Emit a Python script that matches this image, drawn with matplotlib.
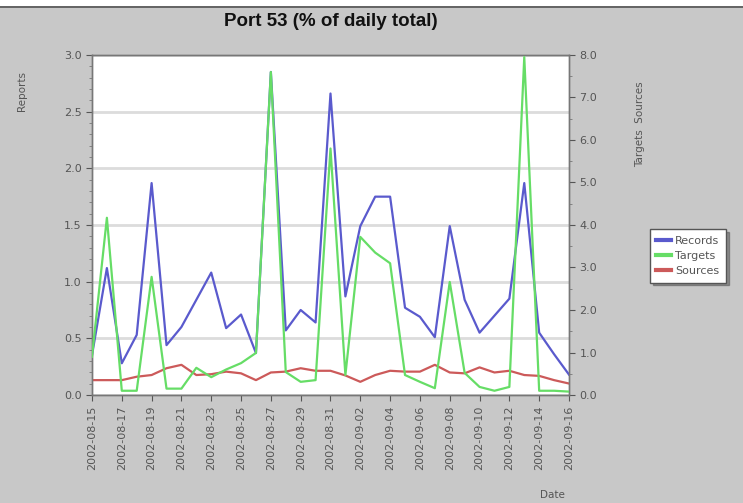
import numpy as np
import pandas as pd
import matplotlib
matplotlib.use('Agg')
import matplotlib.pyplot as plt
import matplotlib.dates as mdates
from matplotlib.patches import Rectangle
from matplotlib.ticker import MultipleLocator, FormatStrFormatter

# Datos
dates = pd.date_range('2002-08-15', '2002-09-16', freq='D')

records = [0.35, 1.12, 0.28, 0.53, 1.87, 0.44, 0.60, 0.84, 1.08, 0.59, 0.71,
           0.37, 2.85, 0.57, 0.75, 0.64, 2.66, 0.87, 1.49, 1.75, 1.75, 0.77,
           0.69, 0.51, 1.49, 0.84, 0.55, 0.70, 0.85, 1.87, 0.55, 0.36, 0.18]

targets = [0.90, 4.17, 0.10, 0.10, 2.78, 0.15, 0.15, 0.64, 0.42, 0.60, 0.75,
           0.99, 7.60, 0.54, 0.31, 0.35, 5.80, 0.47, 3.72, 3.35, 3.10, 0.47,
           0.31, 0.16, 2.66, 0.52, 0.19, 0.10, 0.19, 7.95, 0.10, 0.10, 0.08]

sources = [0.35, 0.35, 0.35, 0.43, 0.47, 0.63, 0.71, 0.47, 0.49, 0.55, 0.51,
           0.35, 0.53, 0.55, 0.63, 0.57, 0.57, 0.46, 0.31, 0.47, 0.57, 0.55,
           0.55, 0.71, 0.53, 0.51, 0.65, 0.53, 0.57, 0.47, 0.45, 0.35, 0.27]

bg = '#c8c8c8'
txt = '#555555'
c_rec = '#5a5acd'
c_tar = '#66dd66'
c_src = '#cc5a5a'

fig = plt.figure(figsize=(7.43, 5.03), dpi=100, facecolor=bg)

# franja superior (borde del escaneo)
fig.patches.append(Rectangle((0, 1 - 6 / 503), 1, 6 / 503, transform=fig.transFigure,
                             facecolor='white', edgecolor='none', zorder=0))
fig.patches.append(Rectangle((0, 1 - 8 / 503), 1, 2 / 503, transform=fig.transFigure,
                             facecolor='#666666', edgecolor='none', zorder=0))

ax = fig.add_axes([0.1238, 0.2147, 0.6420, 0.6760])
ax.set_facecolor('white')
ax2 = ax.twinx()

ax.plot(dates, records, color=c_rec, lw=1.6, label='Records', zorder=3)
ax2.plot(dates, targets, color=c_tar, lw=1.6, label='Targets', zorder=3)
ax2.plot(dates, sources, color=c_src, lw=1.6, label='Sources', zorder=2)

ax.set_xlim(dates[0], dates[-1])
ax.set_ylim(0, 3.0)
ax2.set_ylim(0, 8.0)

ax.yaxis.set_major_locator(MultipleLocator(0.5))
ax.yaxis.set_minor_locator(MultipleLocator(0.1))
ax.yaxis.set_major_formatter(FormatStrFormatter('%.1f'))
ax2.yaxis.set_major_locator(MultipleLocator(1.0))
ax2.yaxis.set_minor_locator(MultipleLocator(0.5))
ax2.yaxis.set_major_formatter(FormatStrFormatter('%.1f'))

ax.xaxis.set_major_locator(mdates.DayLocator(interval=2))
ax.xaxis.set_major_formatter(mdates.DateFormatter('%Y-%m-%d'))

ax.grid(True, axis='y', color='#dcdcdc', lw=2)
ax.set_axisbelow(True)
ax.grid(False, axis='x')

for a in (ax, ax2):
    for s in a.spines.values():
        s.set_color('#777777')
        s.set_linewidth(1.0)
    a.tick_params(colors=txt, labelsize=8, length=4, width=0.8)
    a.tick_params(which='minor', length=2, width=0.6, colors='#777777')
ax.tick_params(axis='x', labelsize=8, rotation=90, length=4)
ax2.set_zorder(ax.get_zorder() + 1)
ax2.patch.set_visible(False)

fig.text(0.445, 0.957, 'Port 53 (% of daily total)', ha='center', va='center',
         fontsize=13.5, fontweight='bold', family='Liberation Sans', color='#111111')
fig.text(0.030, 0.819, 'Reports', rotation=90, ha='center', va='center',
         fontsize=7.5, color=txt)
fig.text(0.861, 0.753, 'Targets  Sources', rotation=90, ha='center', va='center',
         fontsize=7.5, color=txt)
fig.text(0.743, 0.016, 'Date', ha='center', va='center', fontsize=7.5, color=txt)

h1, l1 = ax.get_legend_handles_labels()
h2, l2 = ax2.get_legend_handles_labels()
leg = fig.legend(h1 + h2, l1 + l2, loc='center', bbox_to_anchor=(0.926, 0.491),
                 fontsize=8, frameon=True, fancybox=False, shadow=True,
                 handlelength=1.3, handletextpad=0.4, borderpad=0.6, labelspacing=0.45)
leg.get_frame().set_edgecolor('#555555')
leg.get_frame().set_facecolor('white')
for t in leg.get_texts():
    t.set_color(txt)
for ln in leg.get_lines():
    ln.set_linewidth(3)

fig.savefig('out.png', dpi=100, facecolor=bg)
